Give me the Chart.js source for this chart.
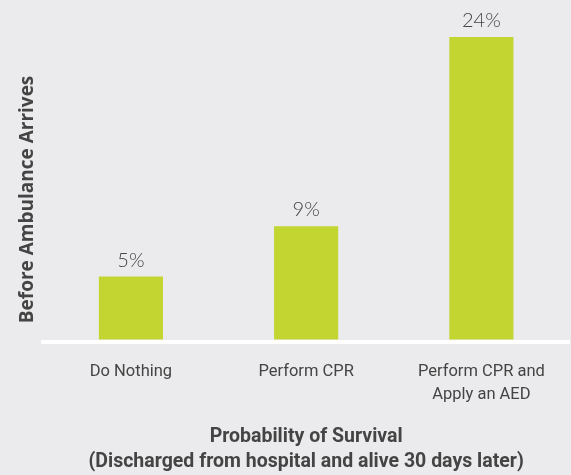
<!DOCTYPE html>
<html>
<head>
<meta charset="utf-8">
<script src="https://cdn.jsdelivr.net/npm/chart.js@4"></script>
<style>
    html, body { margin: 0; padding: 0; background: #ebebed; }
    #wrap { width: 571px; height: 475px; position: relative; }
</style>
</head>
<body>
<div id="wrap"><canvas id="survivalChart"></canvas></div>
<script>
    const categories = [
        "Do Nothing",
        "Perform CPR",
        ["Perform CPR and", "Apply an AED"],
    ];
    const survival = [5, 9, 24];
    const valueLabels = ["5%", "9%", "24%"];

    const COLORS = {
        bar: "#c2d531",
        text: "#444444",
        axis: "#ffffff",
    };

    /*
    |--------------------------------------------------------------------------
    | Value labels above each bar
    |--------------------------------------------------------------------------
    */

    const valueLabelPlugin = {
        id: "valueLabels",
        afterDatasetsDraw(chart) {
            const { ctx } = chart;
            const meta = chart.getDatasetMeta(0);

            ctx.save();
            ctx.fillStyle = COLORS.text;
            ctx.font = "300 20px Lato, 'Open Sans', sans-serif";
            ctx.textAlign = "center";
            ctx.textBaseline = "alphabetic";

            meta.data.forEach((bar, i) => {
                ctx.fillText(valueLabels[i], bar.x, bar.y - 10);
            });

            ctx.restore();
        },
    };

    new Chart(document.getElementById("survivalChart"), {
        type: "bar",

        data: {
            labels: categories,

            datasets: [
                {
                    data: survival,
                    backgroundColor: COLORS.bar,
                    borderWidth: 0,
                    barPercentage: 0.366,
                    categoryPercentage: 1,
                },
            ],
        },

        options: {
            responsive: true,
            maintainAspectRatio: false,
            animation: false,

            layout: {
                padding: { top: 37, right: 2, bottom: 0, left: 0 },
            },

            plugins: {
                legend: { display: false },
                tooltip: { enabled: false },
            },

            scales: {
                x: {
                    grid: { display: false, drawTicks: false },

                    border: { color: COLORS.axis, width: 4 },

                    ticks: {
                        color: COLORS.text,
                        padding: 19,
                        font: { family: "Roboto", size: 16.5, lineHeight: 1.35 },
                    },

                    title: {
                        display: true,
                        text: [
                            "Probability of Survival",
                            "(Discharged from hospital and alive 30 days later)",
                        ],
                        color: COLORS.text,
                        padding: { top: 0, bottom: 0 },
                        font: {
                            family: "Roboto",
                            size: 19.5,
                            weight: "bold",
                            lineHeight: 1.29,
                        },
                    },
                },

                y: {
                    min: -0.2,
                    max: 24,

                    grid: { display: false, drawTicks: false },
                    border: { display: false },
                    ticks: { display: false },

                    title: {
                        display: true,
                        // trailing spaces nudge the rotated title down a little
                        text: "Before Ambulance Arrives    ",
                        color: COLORS.text,
                        padding: { top: 16.5, bottom: 4 },
                        font: {
                            family: "'Open Sans', Roboto",
                            size: 19,
                            weight: "bold",
                            lineHeight: 1.2,
                        },
                    },
                },
            },
        },

        plugins: [valueLabelPlugin],
    });
</script>
</body>
</html>
